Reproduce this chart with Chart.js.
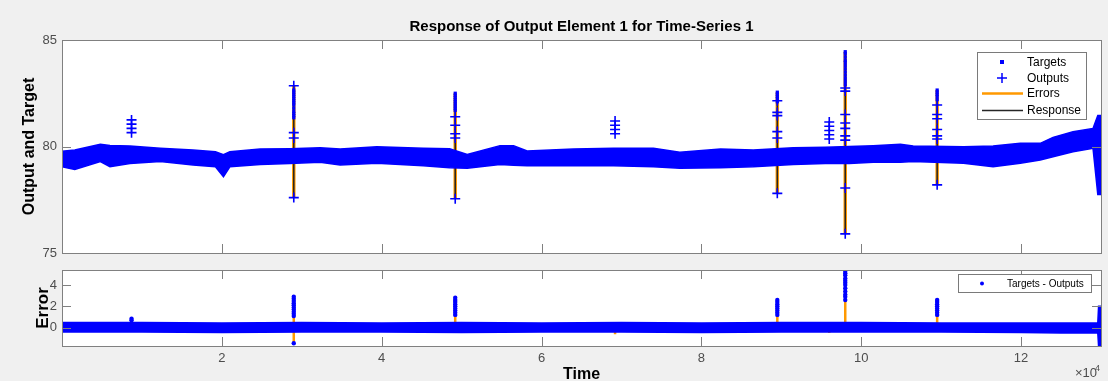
<!DOCTYPE html>
<html><head><meta charset="utf-8">
<script src="https://cdn.jsdelivr.net/npm/chart.js@4/dist/chart.umd.min.js"></script>
<style>
html,body{margin:0;padding:0;background:#f0f0f0;width:1108px;height:381px;overflow:hidden;}
#c1{position:absolute;left:0;top:0;}
#c2{position:absolute;left:0;top:262px;}
</style></head><body>
<canvas id="c1" width="1108" height="262"></canvas>
<canvas id="c2" width="1108" height="122"></canvas>
<script>
// ---------- data (time in samples) ----------
const xTickValues = [20000, 40000, 60000, 80000, 100000, 120000];
const yTickValuesTop = [75, 80, 85];
const yTickValuesErr = [0, 2, 4];

// envelope of the dense Targets/Outputs band (top plot)
const bandTimes = [0, 1600, 4800, 6000, 8500, 12300, 16400, 19200, 20200, 21000, 24800, 28500, 32300, 34800, 39400, 45200, 48500, 50700, 54800, 56500, 58200, 64000, 69000, 74000, 77300, 82400, 86500, 91500, 95500, 98500, 101500, 104900, 106500, 112800, 116500, 119900, 122400, 124000, 126500, 129000, 129600, 130000];
const bandUpper = [79.78, 79.84, 80.10, 80.05, 80.02, 79.92, 79.84, 79.75, 79.62, 79.75, 79.88, 79.90, 79.94, 79.88, 79.99, 79.92, 79.90, 79.63, 80.04, 80.04, 79.79, 79.88, 79.92, 79.92, 79.73, 79.88, 79.84, 79.94, 79.97, 80.00, 80.04, 80.10, 80.02, 79.99, 80.02, 80.15, 80.15, 80.43, 80.69, 80.85, 81.45, 81.45];
const bandLower = [79.05, 78.92, 79.29, 79.05, 79.20, 79.30, 79.13, 79.05, 78.58, 79.05, 79.16, 79.20, 79.26, 79.13, 79.21, 79.10, 79.00, 78.98, 79.16, 79.12, 79.10, 79.10, 79.10, 79.05, 78.98, 79.00, 79.05, 79.16, 79.20, 79.20, 79.26, 79.26, 79.29, 79.21, 79.05, 79.21, 79.37, 79.52, 79.75, 79.92, 77.75, 77.75];

// spikes of the top plot
const targetSpikeTimes  = [29000, 29000, 29000, 29000, 29000, 29000, 29000, 29000, 29000, 29000, 29000, 29000, 29000, 49200, 49200, 49200, 49200, 49200, 49200, 49200, 49200, 49200, 89500, 89500, 89500, 89500, 89500, 98000, 98000, 98000, 98000, 98000, 98000, 98000, 98000, 98000, 98000, 98000, 98000, 109500, 109500, 109500, 109500, 109500];
const targetSpikeValues = [82.65, 82.55, 82.45, 82.35, 82.25, 82.15, 82.05, 81.95, 81.8, 81.65, 81.55, 81.45, 81.35, 82.5, 82.4, 82.3, 82.2, 82.1, 82.0, 81.9, 81.8, 81.7, 82.55, 82.45, 82.35, 82.25, 82.1, 84.45, 84.35, 84.2, 84.05, 83.95, 83.8, 83.65, 83.5, 83.35, 83.2, 83.05, 82.9, 82.65, 82.55, 82.45, 82.35, 82.2];
const outputSpikeTimes  = [8700, 8700, 8700, 8700, 29000, 29000, 29000, 29000, 49200, 49200, 49200, 49200, 49200, 69200, 69200, 69200, 69200, 89500, 89500, 89500, 89500, 89500, 89500, 96000, 96000, 96000, 96000, 96000, 98000, 98000, 98000, 98000, 98000, 98000, 98000, 98000, 98000, 109500, 109500, 109500, 109500, 109500, 109500, 109500];
const outputSpikeValues = [81.25, 81.05, 80.85, 80.65, 82.85, 80.65, 80.4, 77.6, 81.4, 81.0, 80.6, 80.4, 77.55, 81.2, 81.0, 80.8, 80.6, 82.15, 81.6, 81.45, 80.7, 80.4, 77.8, 81.15, 80.95, 80.75, 80.55, 80.35, 82.75, 82.6, 81.5, 81.1, 80.85, 80.5, 80.3, 78.05, 75.9, 81.95, 81.5, 81.3, 80.8, 80.5, 80.35, 78.2];
const spikeLineTimes = [29000, 49200, 89500, 98000, 109500];
const spikeLineLow   = [77.6, 77.55, 77.8, 75.9, 78.2];
const spikeLineHigh  = [82.85, 82.5, 82.55, 84.45, 82.65];

// error plot
const errBandTimes = [0, 10000, 20000, 30000, 40000, 50000, 60000, 70000, 80000, 90000, 100000, 110000, 120000, 125000, 129600, 129700, 130000];
const errBandUpper = [0.5, 0.5, 0.45, 0.5, 0.45, 0.5, 0.45, 0.5, 0.45, 0.5, 0.5, 0.45, 0.45, 0.45, 0.45, 2.0, 2.0];
const errBandLower = [-0.4, -0.4, -0.45, -0.4, -0.4, -0.45, -0.4, -0.4, -0.45, -0.4, -0.4, -0.4, -0.45, -0.5, -0.5, -1.75, -1.75];
const errSpikeTimes  = [8700, 8700, 29000, 29000, 29000, 29000, 29000, 29000, 29000, 29000, 29000, 29000, 29000, 49200, 49200, 49200, 49200, 49200, 49200, 49200, 49200, 49200, 89500, 89500, 89500, 89500, 89500, 89500, 89500, 89500, 98000, 98000, 98000, 98000, 98000, 98000, 98000, 98000, 98000, 98000, 98000, 98000, 109500, 109500, 109500, 109500, 109500, 109500, 109500, 109500];
const errSpikeValues = [0.7, 0.85, 2.9, 2.7, 2.5, 2.3, 2.1, 1.9, 1.7, 1.5, 1.3, 1.1, -1.45, 2.8, 2.6, 2.4, 2.2, 2.0, 1.8, 1.6, 1.4, 1.2, 2.6, 2.4, 2.2, 2.0, 1.8, 1.6, 1.4, 1.2, 5.3, 5.1, 4.9, 4.6, 4.4, 4.2, 4.0, 3.7, 3.4, 3.1, 2.9, 2.6, 2.6, 2.4, 2.2, 2.0, 1.8, 1.6, 1.4, 1.2];
const errLineTimes = [29000, 49200, 69200, 89500, 96000, 98000, 109500];
const errLineLow   = [-1.45, 0, -0.6, 0, -0.5, 0, 0];
const errLineHigh  = [2.9, 2.8, 0, 2.6, 0, 5.3, 2.6];

// ---------- helpers ----------
const BLUE = '#0000ff', ORANGE = '#ff9900', BLACK = '#262626';
const FONT = "'Liberation Sans', Arial, Helvetica, sans-serif";
Chart.defaults.font.family = FONT;
const pts = (xs, ys) => xs.map((x, i) => ({x, y: ys[i]}));
const segs = (xs, lo, hi) => { const a = []; xs.forEach((x, i) => { a.push({x, y: lo[i]}, {x, y: hi[i]}, {x, y: null}); }); return a; };
const noPad = s => { s.paddingTop = 0; s.paddingBottom = 0; s.paddingLeft = 0; s.paddingRight = 0; };

const bgPlugin = {
  id: 'bg',
  beforeDraw(chart) {
    const {ctx, chartArea: a} = chart;
    ctx.save();
    ctx.fillStyle = '#f0f0f0';
    ctx.fillRect(0, 0, chart.width, chart.height);
    ctx.fillStyle = '#ffffff';
    ctx.fillRect(a.left, a.top, a.right - a.left, a.bottom - a.top);
    ctx.restore();
  }
};
const frameTicks = {
  id: 'frameTicks',
  afterDatasetsDraw(chart) {
    const {ctx, chartArea: a} = chart;
    const L = 9;
    ctx.save();
    ctx.strokeStyle = '#808080';
    ctx.lineWidth = 1;
    ctx.beginPath();
    const xs = chart.scales.x, ys = chart.scales.y;
    xs.ticks.forEach(t => {
      const p = Math.round(xs.getPixelForValue(t.value)) + 0.5;
      ctx.moveTo(p, a.bottom); ctx.lineTo(p, a.bottom - L);
      ctx.moveTo(p, a.top); ctx.lineTo(p, a.top + L);
    });
    ys.ticks.forEach(t => {
      const p = Math.round(ys.getPixelForValue(t.value)) + 0.5;
      ctx.moveTo(a.left, p); ctx.lineTo(a.left + L, p);
      ctx.moveTo(a.right, p); ctx.lineTo(a.right - L, p);
    });
    ctx.stroke();
    ctx.strokeRect(Math.round(a.left) + 0.5, Math.round(a.top) + 0.5, Math.round(a.right - a.left), Math.round(a.bottom - a.top));
    ctx.restore();
  }
};
const legendTop = {
  id: 'legendTop',
  afterDraw(chart) {
    const {ctx} = chart;
    ctx.save();
    ctx.fillStyle = '#fff'; ctx.strokeStyle = '#7a7a7a'; ctx.lineWidth = 1;
    ctx.fillRect(977, 52, 109, 67); ctx.strokeRect(977.5, 52.5, 109, 67);
    ctx.fillStyle = BLUE; ctx.fillRect(1000, 60, 4, 4);
    ctx.strokeStyle = BLUE; ctx.lineWidth = 1.5; ctx.beginPath();
    ctx.moveTo(997, 78); ctx.lineTo(1007, 78); ctx.moveTo(1002, 73); ctx.lineTo(1002, 83); ctx.stroke();
    ctx.strokeStyle = ORANGE; ctx.lineWidth = 2.5; ctx.beginPath(); ctx.moveTo(982, 93.5); ctx.lineTo(1023, 93.5); ctx.stroke();
    ctx.strokeStyle = BLACK; ctx.lineWidth = 1.5; ctx.beginPath(); ctx.moveTo(982, 110.5); ctx.lineTo(1023, 110.5); ctx.stroke();
    ctx.fillStyle = '#000'; ctx.font = '12px ' + FONT; ctx.textBaseline = 'middle'; ctx.textAlign = 'left';
    ctx.fillText('Targets', 1027, 62.5); ctx.fillText('Outputs', 1027, 78.5);
    ctx.fillText('Errors', 1027, 93.5); ctx.fillText('Response', 1027, 110.5);
    ctx.restore();
  }
};
const legendErr = {
  id: 'legendErr',
  afterDraw(chart) {
    const {ctx} = chart;
    ctx.save();
    ctx.fillStyle = '#fff'; ctx.strokeStyle = '#7a7a7a'; ctx.lineWidth = 1;
    ctx.fillRect(958, 12, 133, 18); ctx.strokeRect(958.5, 12.5, 133, 18);
    ctx.fillStyle = BLUE; ctx.beginPath(); ctx.arc(982, 21.5, 2, 0, Math.PI * 2); ctx.fill();
    ctx.fillStyle = '#000'; ctx.font = '10px ' + FONT; ctx.textBaseline = 'middle'; ctx.textAlign = 'left';
    ctx.fillText('Targets - Outputs', 1007, 22);
    // exponent label
    ctx.fillStyle = '#4d4d4d'; ctx.font = '13px ' + FONT; ctx.textBaseline = 'alphabetic';
    ctx.fillText('\u00d710', 1075, 115);
    ctx.font = '9px ' + FONT; ctx.fillText('4', 1095, 109);
    ctx.restore();
  }
};

function xScale(showLabels, h) {
  return {
    type: 'linear', min: 0, max: 130000,
    grid: {display: false, drawTicks: false}, border: {display: false},
    afterBuildTicks: s => { s.ticks = xTickValues.map(v => ({value: v})); },
    ticks: {display: showLabels, padding: 5, color: '#4d4d4d', font: {size: 13}, maxRotation: 0,
      callback: v => String(v / 10000)},
    title: {display: showLabels, text: 'Time', color: '#000', font: {size: 16, weight: 'bold'}, padding: {top: 0, bottom: 0}},
    afterFit: s => { s.height = h; noPad(s); }
  };
}

const common = {
  responsive: false, animation: false, devicePixelRatio: 1,
  elements: {line: {tension: 0}},
};

// ---------- top chart ----------
new Chart(document.getElementById('c1'), {
  type: 'line',
  data: {datasets: [
    {data: pts(bandTimes, bandLower), borderColor: BLUE, borderWidth: 1.5, pointRadius: 0, fill: false},
    {data: pts(bandTimes, bandUpper), borderColor: BLUE, borderWidth: 1.5, pointRadius: 0, fill: '-1', backgroundColor: BLUE},
    {data: pts(targetSpikeTimes, targetSpikeValues), showLine: false, pointStyle: 'rect', pointRadius: 2.3, backgroundColor: BLUE, borderColor: BLUE, borderWidth: 0},
    {data: pts(outputSpikeTimes, outputSpikeValues), showLine: false, pointStyle: 'cross', pointRadius: 5, borderColor: BLUE, borderWidth: 1.6},
    {data: segs(spikeLineTimes, spikeLineLow, spikeLineHigh), borderColor: BLACK, borderWidth: 1.5, pointRadius: 0, spanGaps: false},
    {data: segs(spikeLineTimes, spikeLineLow, spikeLineHigh), borderColor: ORANGE, borderWidth: 3.5, pointRadius: 0, spanGaps: false}
  ]},
  options: Object.assign({}, common, {
    layout: {padding: {left: 0, right: 7, top: 0, bottom: 0}},
    plugins: {legend: {display: false}, tooltip: {enabled: false},
      title: {display: true, fullSize: false, text: 'Response of Output Element 1 for Time-Series 1', color: '#000',
        font: {size: 15, weight: 'bold'}, padding: {top: 18, bottom: 4}}},
    scales: {
      x: xScale(false, 9),
      y: {type: 'linear', min: 75, max: 85,
        grid: {display: false, drawTicks: false}, border: {display: false},
        afterBuildTicks: s => { s.ticks = yTickValuesTop.map(v => ({value: v})); },
        ticks: {padding: 5, color: '#4d4d4d', font: {size: 13}},
        title: {display: true, text: 'Output and Target', color: '#000', font: {size: 16, weight: 'bold'}, padding: {top: 20, bottom: 0}},
        afterFit: s => { s.width = 62; noPad(s); }}
    }
  }),
  plugins: [bgPlugin, frameTicks, legendTop]
});

// ---------- error chart ----------
new Chart(document.getElementById('c2'), {
  type: 'line',
  data: {datasets: [
    {data: pts(errBandTimes, errBandLower), borderColor: BLUE, borderWidth: 1.5, pointRadius: 0, fill: false},
    {data: pts(errBandTimes, errBandUpper), borderColor: BLUE, borderWidth: 1.5, pointRadius: 0, fill: '-1', backgroundColor: BLUE},
    {data: pts(errSpikeTimes, errSpikeValues), showLine: false, pointStyle: 'circle', pointRadius: 2.2, backgroundColor: BLUE, borderColor: BLUE, borderWidth: 0},
    {data: segs(errLineTimes, errLineLow, errLineHigh), borderColor: ORANGE, borderWidth: 2.5, pointRadius: 0, spanGaps: false}
  ]},
  options: Object.assign({}, common, {
    layout: {padding: {left: 0, right: 7, top: 8, bottom: 0}},
    plugins: {legend: {display: false}, tooltip: {enabled: false}},
    scales: {
      x: xScale(true, 38),
      y: {type: 'linear', min: -1.71, max: 5.4,
        grid: {display: false, drawTicks: false}, border: {display: false},
        afterBuildTicks: s => { s.ticks = yTickValuesErr.map(v => ({value: v})); },
        ticks: {padding: 5, color: '#4d4d4d', font: {size: 13}},
        title: {display: true, text: 'Error', color: '#000', font: {size: 17, weight: 'bold'}, padding: {top: 33, bottom: 0}},
        afterFit: s => { s.width = 62; noPad(s); }}
    }
  }),
  plugins: [bgPlugin, frameTicks, legendErr]
});
</script>
</body></html>
